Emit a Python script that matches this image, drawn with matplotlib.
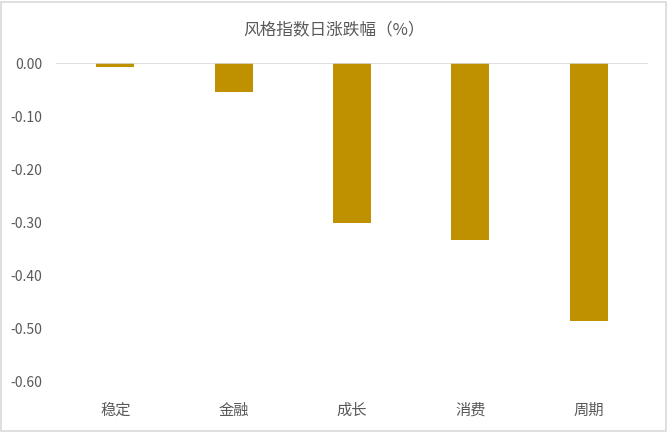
import matplotlib.pyplot as plt
from matplotlib.patches import Rectangle

plt.rcParams['font.family'] = ['Noto Sans CJK SC', 'DejaVu Sans']

categories = ['稳定', '金融', '成长', '消费', '周期']
values = [-0.007, -0.055, -0.301, -0.334, -0.486]
yticks = [0.0, -0.1, -0.2, -0.3, -0.4, -0.5, -0.6]

fig = plt.figure(figsize=(6.68, 4.32), dpi=100)
ax = fig.add_axes([0.084, 0.118, 0.886, 0.736])

x = range(len(categories))
ax.bar(x, values, width=0.32, color='#BF9000', zorder=2)
ax.axhline(0, color='#D9D9D9', lw=1.2, zorder=3)

ax.set_xlim(-0.5, len(categories) - 0.5)
ax.set_ylim(-0.6, 0.0)
ax.set_yticks(yticks)
ax.set_yticklabels(['%.2f' % v for v in yticks])
ax.set_xticks(list(x))
ax.set_xticklabels(categories)
ax.tick_params(axis='y', length=0, pad=10, labelsize=10, labelcolor='#595959')
ax.tick_params(axis='x', length=0, pad=15, labelsize=11, labelcolor='#595959')
for s in ax.spines.values():
    s.set_visible(False)

fig.text(0.5, 0.93, '风格指数日涨跌幅（%）', ha='center', va='center',
         fontsize=12, color='#595959')

fig.patches.append(Rectangle((0.002, 0.003), 0.995, 0.993, transform=fig.transFigure,
                             fill=False, edgecolor='#D9D9D9', lw=1.2))

fig.savefig('out.png', dpi=100)
